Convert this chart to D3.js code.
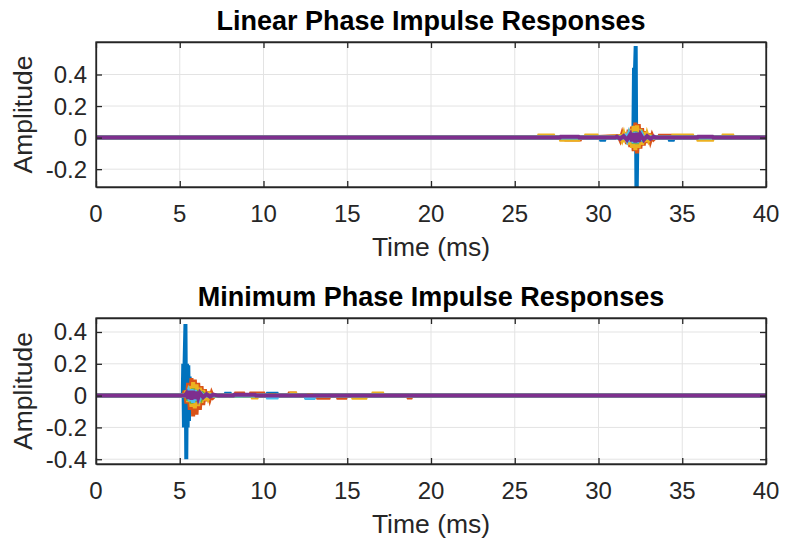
<!DOCTYPE html>
<html>
<head>
<meta charset="utf-8">
<script src="https://cdn.jsdelivr.net/npm/d3@7"></script>
<style>
  body { margin: 0; background: #fff; }
  svg { font-family: "Liberation Sans", Arial, Helvetica, sans-serif; }
  .grid line { stroke: #e3e3e3; stroke-width: 1; }
  .tick-label { fill: #262626; font-size: 24px; }
  .axis-label { fill: #262626; font-size: 26.5px; }
  .title { fill: #000; font-size: 27px; font-weight: bold; }
</style>
</head>
<body>
<svg id="chart" width="785" height="546"></svg>
<script>
// tick values
const timeTicks = [0, 5, 10, 15, 20, 25, 30, 35, 40]
const ampTicksLinear = [-0.2, 0, 0.2, 0.4]
const ampTicksMinimum = [-0.4, -0.2, 0, 0.2, 0.4]

// linear phase impulse responses, [time ms, amplitude] (nonzero parts only)
const linBlue = [[30.1,0],[30.15,-0.014],[30.35,-0.014],[30.4,0],[32.08,0],[32.12,0.43],[32.18,0.43],[32.22,0.58],[32.27,-0.45],[32.32,0],
  [34.2,0],[34.25,-0.014],[34.45,-0.014],[34.5,0]]
const linOrange = [[28.0,0],[28.05,-0.012],[28.9,-0.012],[28.95,0],
  [31.2,0.01],[31.3,-0.015],[31.4,0.02],[31.5,-0.025],[31.6,0.034],[31.7,-0.04],[31.8,0.05],[31.9,-0.06],[32.0,0.07],[32.1,-0.085],
  [32.2,0.095],[32.3,-0.1],[32.4,0.085],[32.5,-0.07],[32.6,0.06],[32.7,-0.05],[32.8,0.04],[32.9,-0.034],[33.0,0.026],[33.1,-0.02],
  [33.2,0.015],[33.3,-0.01],[33.4,0],[33.6,0],[33.65,0.012],[34.3,0.012],[34.35,0]]
const linYellow = [[26.4,0],[26.45,0.013],[27.3,0.013],[27.35,0],[27.7,0],[27.75,-0.013],[28.8,-0.013],[28.85,0],
  [29.2,0],[29.25,0.013],[29.9,0.013],[29.95,0],
  [31.3,0.01],[31.4,-0.015],[31.5,0.02],[31.6,-0.028],[31.7,0.035],[31.8,-0.045],[31.9,0.055],[32.0,-0.065],[32.1,0.075],
  [32.2,-0.08],[32.3,0.078],[32.4,-0.065],[32.5,0.055],[32.6,-0.045],[32.7,0.035],[32.8,-0.026],[32.9,0.02],[33.0,-0.014],
  [33.1,0.01],[33.2,0],[34.4,0],[34.45,0.013],[35.6,0.013],[35.65,0],[35.9,0],[35.95,-0.013],[36.8,-0.013],[36.85,0],
  [37.4,0],[37.45,0.013],[38.0,0.013],[38.05,0]]
const linGreen = [[31.6,0],[31.7,-0.01],[31.8,0.015],[31.9,-0.022],[32.0,0.03],[32.1,-0.038],[32.2,0.04],[32.3,-0.04],
  [32.4,0.032],[32.5,-0.024],[32.6,0.016],[32.7,-0.01],[32.8,0]]
const linCyan = [[31.5,0],[31.6,0.01],[31.7,-0.015],[31.8,0.02],[31.9,-0.026],[32.0,0.03],[32.1,-0.034],[32.2,0.036],
  [32.3,-0.034],[32.4,0.028],[32.5,-0.022],[32.6,0.016],[32.7,-0.01],[32.8,0]]
const linPurple = [[27.7,0],[27.75,0.006],[28.8,0.006],[28.85,0],[31.0,0],[31.1,0.006],[31.3,-0.008],[31.5,0.01],[31.7,-0.014],
  [31.9,0.02],[32.0,-0.024],[32.1,0.028],[32.2,-0.03],[32.3,0.03],[32.4,-0.026],[32.5,0.02],[32.7,-0.014],[32.9,0.01],
  [33.1,-0.008],[33.3,0.006],[33.4,0],[35.9,0],[35.95,0.006],[36.8,0.006],[36.85,0]]

// minimum phase impulse responses
const minBlue = [[5.18,0],[5.21,0.2],[5.25,-0.2],[5.29,0.21],[5.34,0.45],[5.39,-0.4],[5.43,0.2],[5.47,-0.2],[5.51,0.19],
  [5.55,-0.16],[5.59,0.12],[5.63,-0.09],[5.7,0.05],[5.8,-0.03],[5.9,0.012],[6.0,0],[7.7,0],[7.75,0.012],[8.0,0.012],[8.05,0],
  [10.2,0],[10.25,0.012],[10.8,0.012],[10.85,0],[12.5,0],[12.55,-0.013],[13.0,-0.013],[13.05,0]]
const minOrange = [[5.2,0],[5.3,0.03],[5.4,-0.05],[5.5,0.08],[5.6,-0.09],[5.7,0.11],[5.8,-0.13],[5.9,0.1],[6.0,-0.12],[6.1,0.08],
  [6.2,-0.09],[6.3,0.06],[6.4,-0.06],[6.5,0.04],[6.6,-0.035],[6.7,0.025],[6.8,-0.02],[6.9,0.015],[7.0,-0.01],[7.1,0],
  [8.3,0],[8.35,0.013],[8.8,0.013],[8.85,0],[9.2,0],[9.25,0.013],[10.0,0.013],[10.05,0],[11.5,0],[11.55,0.014],[11.9,0.014],[11.95,0],
  [13.2,0],[13.25,-0.013],[13.9,-0.013],[13.95,0],[14.4,0],[14.45,-0.013],[14.9,-0.013],[14.95,0],[18.6,0],[18.65,-0.012],[18.8,-0.012],[18.85,0]]
const minYellow = [[5.3,0],[5.4,0.03],[5.5,-0.04],[5.6,0.06],[5.7,-0.07],[5.8,0.085],[5.9,-0.08],[6.0,0.07],[6.1,-0.065],
  [6.2,0.05],[6.3,-0.045],[6.4,0.035],[6.5,-0.03],[6.6,0.02],[6.7,-0.015],[6.8,0.01],[6.9,0],[9.3,0],[9.35,-0.012],[9.6,-0.012],[9.65,0],
  [11.6,0],[11.65,0.013],[11.9,0.013],[11.95,0],[15.3,0],[15.35,-0.013],[16.1,-0.013],[16.15,0],[16.5,0],[16.55,0.013],[17.1,0.013],[17.15,0]]
const minGreen = [[5.4,0],[5.5,-0.03],[5.6,0.04],[5.7,-0.05],[5.8,0.045],[5.9,-0.04],[6.0,0.035],[6.1,-0.03],[6.2,0.02],
  [6.3,-0.015],[6.4,0.01],[6.5,0]]
const minCyan = [[5.4,0],[5.5,0.025],[5.6,-0.035],[5.7,0.04],[5.8,-0.045],[5.9,0.035],[6.0,-0.03],[6.1,0.02],[6.2,-0.015],
  [6.3,0.01],[6.4,0],[10.2,0],[10.25,-0.012],[10.8,-0.012],[10.85,0],[12.5,0],[12.55,-0.013],[13.0,-0.013],[13.05,0]]
const minPurple = [[5.3,0],[5.4,0.015],[5.5,-0.02],[5.6,0.03],[5.7,-0.025],[5.8,0.03],[5.9,-0.02],[6.0,0.025],[6.1,-0.015],
  [6.2,0.018],[6.4,-0.01],[6.6,0.01],[6.8,-0.006],[7.0,0.006],[7.3,0],[8.2,0],[8.25,0.005],[9.5,0.005],[9.55,0]]

const seriesColors = ['#0072BD', '#D95319', '#EDB120', '#77AC30', '#4DBEEE', '#7E2F8E']

const panels = [
  { title: 'Linear Phase Impulse Responses', top: 42, height: 145, yDomain: [-0.313, 0.606], yTicks: ampTicksLinear,
    series: [linBlue, linOrange, linYellow, linGreen, linCyan, linPurple] },
  { title: 'Minimum Phase Impulse Responses', top: 318, height: 146, yDomain: [-0.43, 0.488], yTicks: ampTicksMinimum,
    series: [minBlue, minOrange, minYellow, minGreen, minCyan, minPurple] }
]

const svg = d3.select('#chart')
const left = 96, width = 670, tickLen = 6

panels.forEach((p, idx) => {
  const x = d3.scaleLinear().domain([0, 40]).range([left, left + width])
  const y = d3.scaleLinear().domain(p.yDomain).range([p.top + p.height, p.top])
  const g = svg.append('g')

  // grid
  const grid = g.append('g').attr('class', 'grid')
  grid.selectAll('.gx').data(timeTicks.slice(1, -1)).join('line')
    .attr('x1', d => x(d)).attr('x2', d => x(d)).attr('y1', p.top).attr('y2', p.top + p.height)
  grid.selectAll('.gy').data(p.yTicks).join('line')
    .attr('x1', left).attr('x2', left + width).attr('y1', d => y(d)).attr('y2', d => y(d))

  // lines
  const clipId = 'clip' + idx
  svg.append('clipPath').attr('id', clipId).append('rect')
    .attr('x', left).attr('y', p.top).attr('width', width).attr('height', p.height)
  const line = d3.line().x(d => x(d[0])).y(d => y(d[1]))
  g.append('g').attr('clip-path', `url(#${clipId})`)
    .selectAll('path').data(p.series).join('path')
    .attr('d', d => line([[0, 0], ...d, [40, 0]]))
    .attr('fill', 'none')
    .attr('stroke', (d, i) => seriesColors[i])
    .attr('stroke-width', 4)
    .attr('stroke-linejoin', 'miter')

  // axes (inward ticks on all four sides)
  const bottomAxis = d3.axisBottom(x).tickValues(timeTicks).tickSizeInner(-tickLen).tickSizeOuter(0).tickFormat('')
  const topAxis = d3.axisTop(x).tickValues(timeTicks).tickSizeInner(-tickLen).tickSizeOuter(0).tickFormat('')
  const leftAxis = d3.axisLeft(y).tickValues(p.yTicks).tickSizeInner(-tickLen).tickSizeOuter(0).tickFormat('')
  const rightAxis = d3.axisRight(y).tickValues(p.yTicks).tickSizeInner(-tickLen).tickSizeOuter(0).tickFormat('')
  const axes = [
    g.append('g').attr('transform', `translate(0,${p.top + p.height})`).call(bottomAxis),
    g.append('g').attr('transform', `translate(0,${p.top})`).call(topAxis),
    g.append('g').attr('transform', `translate(${left},0)`).call(leftAxis),
    g.append('g').attr('transform', `translate(${left + width},0)`).call(rightAxis)
  ]
  axes.forEach(a => {
    a.selectAll('path, line').attr('stroke', '#262626').attr('stroke-width', 1.3)
    a.selectAll('text').remove()
  })
  g.append('rect').attr('x', left).attr('y', p.top).attr('width', width).attr('height', p.height)
    .attr('fill', 'none').attr('stroke', '#262626').attr('stroke-width', 1.3)

  // tick labels
  g.selectAll('.xl').data(timeTicks).join('text').attr('class', 'tick-label')
    .attr('x', d => x(d)).attr('y', p.top + p.height + 35).attr('text-anchor', 'middle').text(d => d)
  g.selectAll('.yl').data(p.yTicks).join('text').attr('class', 'tick-label')
    .attr('x', left - 9).attr('y', d => y(d) + 8.5).attr('text-anchor', 'end').text(d => d)

  // labels
  g.append('text').attr('class', 'axis-label').attr('x', left + width / 2).attr('y', p.top + p.height + 69)
    .attr('text-anchor', 'middle').text('Time (ms)')
  g.append('text').attr('class', 'axis-label').attr('text-anchor', 'middle')
    .attr('transform', `translate(32,${p.top + p.height / 2}) rotate(-90)`).text('Amplitude')
  g.append('text').attr('class', 'title').attr('x', left + width / 2).attr('y', p.top - 12)
    .attr('text-anchor', 'middle').text(p.title)
})
</script>
</body>
</html>
